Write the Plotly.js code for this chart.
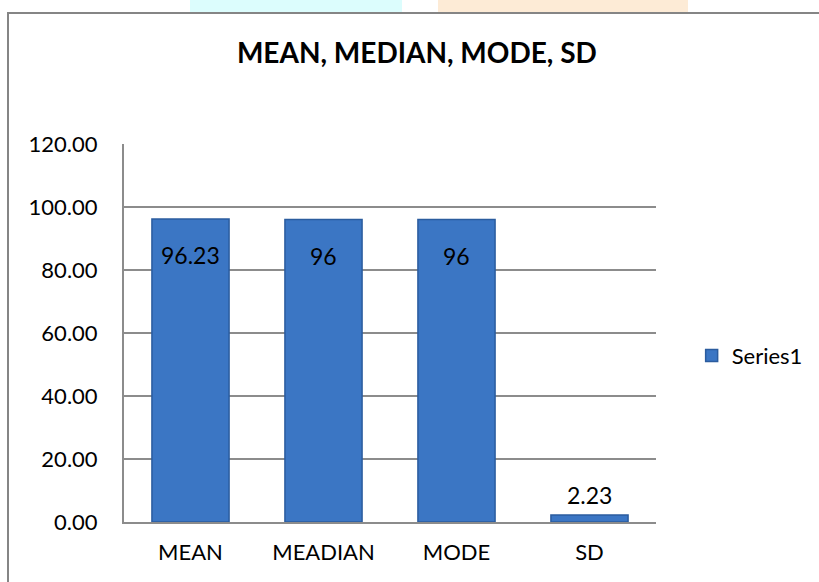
<!DOCTYPE html>
<html>
<head>
<meta charset="utf-8">
<script src="https://cdn.plot.ly/plotly-3.0.1.min.js"></script>
<style>
  html, body { margin: 0; padding: 0; background: #ffffff; }
  #wrap { position: relative; width: 819px; height: 582px; overflow: hidden; }
  #wm1 { position: absolute; left: 190px; top: 0; width: 212px; height: 12px; background: #dcfdfd; }
  #wm2 { position: absolute; left: 438px; top: 0; width: 250px; height: 12px; background: #fdebd6; }
  #frame { position: absolute; left: 7px; top: 12px; width: 900px; height: 700px; border: 2px solid #858585; box-sizing: border-box; }
  #chart { position: absolute; left: 0; top: 0; width: 819px; height: 582px; }
</style>
</head>
<body>
<div id="wrap">
  <div id="wm1"></div>
  <div id="wm2"></div>
  <div id="frame"></div>
  <div id="chart"></div>
</div>
<script>
const categories = ["MEAN", "MEADIAN", "MODE", "SD"];
const values = [96.23, 96, 96, 2.23];
const valueLabels = ["96.23", "96", "96", "2.23"];
const yTickVals = [0, 20, 40, 60, 80, 100, 120];
const yTickText = ["0.00", "20.00", "40.00", "60.00", "80.00", "100.00", "120.00"];
const seriesName = "Series1";

const FONT = "Lato, 'Open Sans', sans-serif";

const trace = {
  type: "bar",
  x: categories,
  y: values,
  name: seriesName,
  marker: { color: "#3b76c4", line: { color: "#2b5c9e", width: 1.5 } },
  hoverinfo: "none",
  showlegend: true
};

const annotations = categories.map((c, i) => {
  const inside = values[i] > 20;
  return {
    x: c, y: values[i], xref: "x", yref: "y",
    text: valueLabels[i], showarrow: false,
    yanchor: inside ? "top" : "bottom",
    yshift: inside ? -20 : 4,
    font: { family: FONT, size: 23, color: "#000000" }
  };
});

const layout = {
  width: 819, height: 582,
  margin: { l: 124, r: 162, t: 144, b: 60 },
  paper_bgcolor: "rgba(0,0,0,0)",
  plot_bgcolor: "rgba(0,0,0,0)",
  title: {
    text: "<b>MEAN, MEDIAN, MODE, SD</b>",
    font: { family: FONT, size: 28, color: "#000000" },
    x: 0.509, xanchor: "center", y: 0.908, yanchor: "middle"
  },
  bargap: 0.42,
  xaxis: {
    type: "category",
    showline: true, linecolor: "#8c8c8c", linewidth: 2,
    ticks: "", showgrid: false,
    tickfont: { family: FONT, size: 22, color: "#000000" },
    ticklabelstandoff: 10
  },
  yaxis: {
    range: [0, 120],
    tickvals: yTickVals, ticktext: yTickText,
    showline: true, linecolor: "#8c8c8c", linewidth: 2,
    showgrid: true, gridcolor: "#8c8c8c", gridwidth: 2,
    zeroline: false, ticks: "",
    tickfont: { family: FONT, size: 22, color: "#000000" },
    ticklabelstandoff: 20
  },
  legend: {
    x: 1.065, xanchor: "left", y: 0.44, yanchor: "middle",
    font: { family: FONT, size: 22, color: "#000000" },
    itemwidth: 30, bgcolor: "rgba(0,0,0,0)"
  },
  annotations: annotations,
  showlegend: true
};

Plotly.newPlot("chart", [trace], layout, { displayModeBar: false, staticPlot: true });
</script>
</body>
</html>
